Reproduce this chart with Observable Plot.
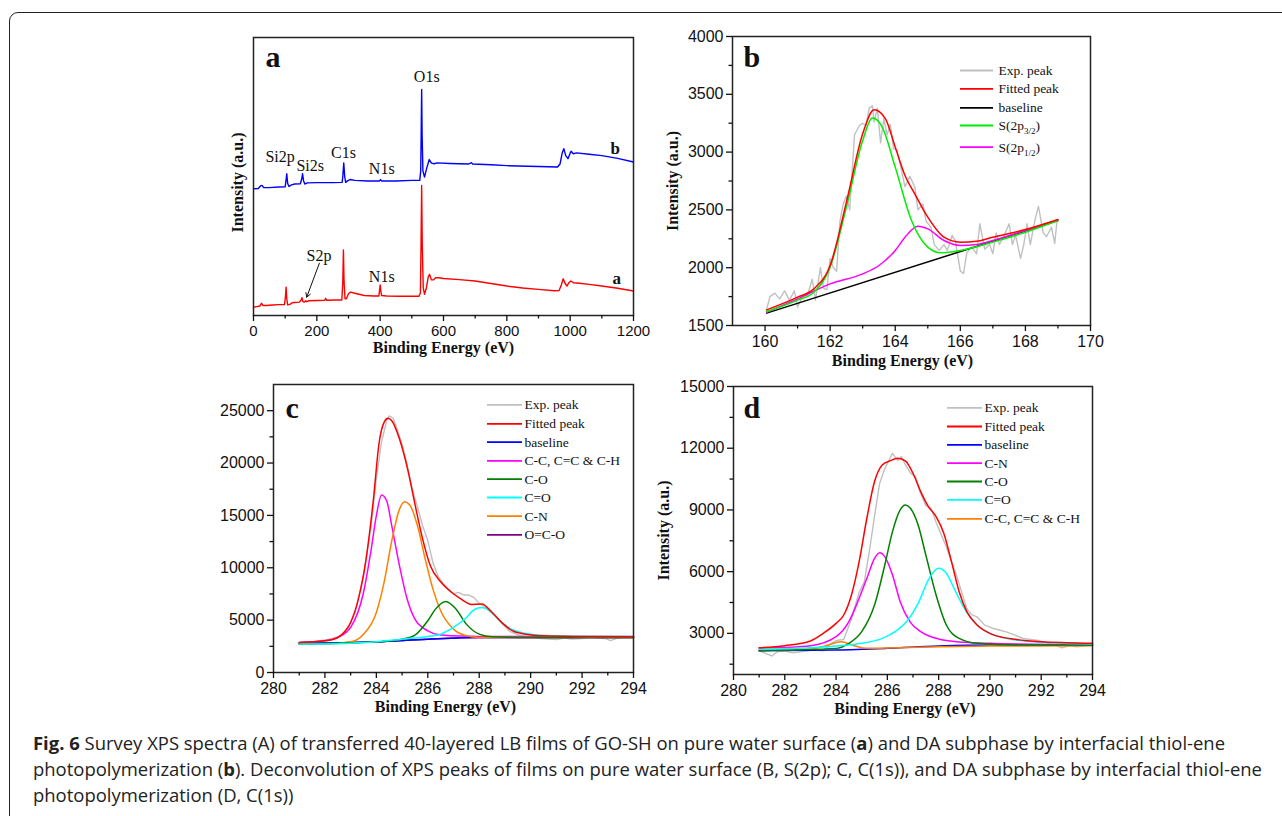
<!DOCTYPE html>
<html><head><meta charset="utf-8">
<script src="https://cdn.jsdelivr.net/npm/d3@7"></script>
<script src="https://cdn.jsdelivr.net/npm/@observablehq/plot@0.6"></script>
<style>
body{margin:0;background:#fff;width:1282px;height:816px;overflow:hidden;position:relative;font-family:"Liberation Sans",Arial,sans-serif}
#border{position:absolute;left:9px;top:12px;width:1300px;height:830px;border:1.6px solid #222;border-radius:9px;box-sizing:border-box}
.cap{position:absolute;left:33px;white-space:nowrap;font-family:"Open Sans",sans-serif;font-size:17.5px;line-height:26px;color:#222;transform-origin:0 50%}
.cap b{font-weight:700}
</style></head><body>
<div id="border"></div>
<div class="cap" id="cap1" style="top:730px"><b>Fig. 6</b> Survey XPS spectra (A) of transferred 40-layered LB films of GO-SH on pure water surface (<b>a</b>) and DA subphase by interfacial thiol-ene</div>
<div class="cap" id="cap2" style="top:756px">photopolymerization (<b>b</b>). Deconvolution of XPS peaks of films on pure water surface (B, S(2p); C, C(1s)), and DA subphase by interfacial thiol-ene</div>
<div class="cap" id="cap3" style="top:782px">photopolymerization (D, C(1s))</div>
<script>
// ---------- DATA ----------
// Panel a: survey spectra (arbitrary intensity units)
const surveyA = [[0,3.0],[10,3.2],[20,3.4],[25,4.4],[30,3.6],[40,3.6],[60,3.8],[80,3.9],[98,3.9],[101,7],[103,10.2],[105,6],[108,3.8],[115,4.0],[122,4.6],[130,4.7],[145,4.8],[150,5.5],[153,6.4],[156,5.0],[160,4.8],[165,5.3],[168,5.0],[175,5.3],[200,5.4],[225,5.5],[228,6.2],[231,5.5],[260,5.6],[279,5.6],[282,12],[284,23.6],[286,12],[289,6.0],[293,6.0],[300,7.8],[306,8.4],[320,8.0],[350,7.2],[380,7.0],[396,7.0],[398,9],[400,11.0],[402,9],[404,7.2],[420,7.0],[460,6.9],[500,6.9],[522,6.9],[527,8],[529,25],[531,46.8],[533,25],[536,10],[540,7.6],[546,10],[552,14],[556,14.8],[562,12.8],[568,12.8],[575,13.6],[585,13.6],[600,13.3],[650,12.9],[700,12.4],[750,11.5],[800,10.6],[850,9.9],[900,9.4],[950,8.9],[965,9.0],[972,11],[978,13.2],[984,11.5],[990,10.6],[996,11.8],[1002,12.4],[1010,11.8],[1030,11.6],[1060,11.2],[1100,10.6],[1150,9.8],[1200,8.8]];
const surveyB = [[0,45.6],[15,45.7],[22,46.6],[27,46.8],[32,46.0],[50,46.0],[80,46.2],[100,46.3],[102,48],[105,51.0],[108,47.5],[112,46.4],[120,47.0],[130,47.3],[148,47.4],[152,49],[155,51.0],[158,48.5],[162,47.3],[170,47.7],[200,47.8],[250,47.8],[280,47.9],[282,50],[285,54.9],[288,50],[291,47.9],[298,48.5],[305,48.9],[320,48.6],[360,48.4],[398,48.4],[401,48.9],[404,48.4],[450,48.4],[500,48.6],[525,48.6],[528,52],[529.5,65],[531,81.3],[532.5,65],[535,52],[540,49.8],[547,53],[555,56.1],[562,54.8],[570,54.6],[580,54.9],[620,54.7],[680,54.5],[688,55.0],[692,54.5],[750,54.2],[800,53.9],[900,53.6],[960,53.4],[968,54.5],[975,58.5],[980,60.0],[986,57.5],[993,56.4],[1000,58.4],[1003,59.1],[1010,58.2],[1020,58.5],[1060,58.0],[1100,57.5],[1150,56.5],[1200,55.2]];
const surveyLabels = [
  {t:"O1s",x:547,y:85.8},{t:"Si2p",x:84,y:57.0},{t:"Si2s",x:179,y:53.8},{t:"C1s",x:284,y:58.5},
  {t:"N1s",x:405,y:52.8},{t:"S2p",x:207,y:21.6},{t:"N1s",x:405,y:14.0}
];
const surveyCurveLabels = [{t:"b",x:1142,y:60.0},{t:"a",x:1147,y:13.4}];
const surveyArrow = [{x1:208,y1:18.8,x2:168,y2:6.6}];
const surveyXMajor = [0,200,400,600,800,1000,1200];
const surveyXMinor = [100,300,500,700,900,1100];

// Panel b: S(2p)
const bExp = [[160.05,1640],[160.15,1750],[160.3,1780],[160.45,1730],[160.6,1800],[160.75,1720],[160.9,1800],[161.0,1660],[161.15,1750],[161.3,1760],[161.45,1900],[161.55,1720],[161.7,2000],[161.8,1820],[161.9,1810],[162.0,2080],[162.1,2000],[162.2,1970],[162.3,2400],[162.4,2550],[162.5,2620],[162.6,2500],[162.75,3150],[162.9,3230],[163.0,3250],[163.1,3230],[163.2,3380],[163.3,3400],[163.35,3260],[163.45,3380],[163.55,3080],[163.65,3290],[163.75,3150],[163.85,3240],[163.95,3030],[164.05,3020],[164.15,2900],[164.3,2700],[164.45,2790],[164.6,2700],[164.7,2500],[164.85,2550],[164.95,2400],[165.1,2350],[165.2,2200],[165.35,2150],[165.5,2200],[165.6,2150],[165.75,2280],[165.85,2230],[166.0,1970],[166.1,1950],[166.2,2130],[166.35,2180],[166.5,2120],[166.6,2380],[166.75,2160],[166.9,2200],[167.0,2120],[167.1,2300],[167.2,2200],[167.35,2280],[167.5,2380],[167.6,2200],[167.7,2280],[167.85,2080],[167.95,2200],[168.05,2380],[168.15,2200],[168.3,2420],[168.4,2530],[168.55,2300],[168.65,2270],[168.8,2350],[168.9,2210],[168.97,2400]];
const bFit = [[160.05,1635],[161,1745],[161.5,1817],[162,2019],[162.5,2567],[163,3158],[163.35,3366],[163.7,3288],[164,3043],[164.3,2798],[164.6,2639],[165,2437],[165.5,2264],[166,2221],[166.5,2229],[167,2264],[168,2330],[169,2417]];
const bBase = [[160.05,1607],[169,2408]];
const bS32 = [[160.05,1621],[161,1720],[161.5,1788],[162,2005],[162.5,2524],[163,3100],[163.3,3294],[163.6,3216],[164,2870],[164.5,2408],[165,2178],[165.4,2129],[166,2149],[167,2221],[168,2307],[169,2408]];
const bS12 = [[160.05,1615],[161,1730],[162,1860],[163,1947],[163.5,2019],[164,2149],[164.3,2264],[164.7,2359],[165,2336],[165.5,2235],[166,2192],[166.5,2200],[167,2235],[168,2322],[169,2408]];
const bLegend = ["Exp. peak","Fitted peak","baseline","S(2p3/2)","S(2p1/2)"];
const bXMajor = [160,162,164,166,168,170], bXMinor = [161,163,165,167,169];
const bYMajor = [1500,2000,2500,3000,3500,4000], bYMinor = [1750,2250,2750,3250,3750];

// Panel c: C(1s) on pure water
const cExp = [[281.0,2850],[281.5,2950],[282.0,3100],[282.3,3250],[282.6,3500],[282.9,4200],[283.2,6000],[283.5,9200],[283.8,14000],[284.0,18500],[284.2,22000],[284.4,24000],[284.5,24500],[284.65,24300],[284.8,23300],[285.0,21800],[285.2,19800],[285.4,17500],[285.6,15800],[285.8,14000],[286.0,12600],[286.2,10500],[286.4,9200],[286.6,8500],[286.8,7900],[287.0,7500],[287.2,7650],[287.4,7400],[287.6,7400],[287.8,7150],[288.0,6600],[288.2,6300],[288.4,6050],[288.6,5500],[288.8,4900],[289.0,4400],[289.2,3900],[289.5,3600],[289.8,3450],[290.1,3350],[290.4,3250],[290.7,3200],[291.0,3150],[291.3,3300],[291.6,3200],[292.0,3250],[292.3,3400],[292.6,3300],[292.9,3250],[293.1,3050],[293.4,3300],[293.7,3400],[294,3350]];
const cFit = [[281,2866],[282,3025],[282.5,3344],[282.8,3980],[283,4780],[283.3,7000],[283.6,10830],[283.9,16880],[284.1,21820],[284.3,23890],[284.45,24270],[284.6,24040],[284.9,22290],[285.2,19590],[285.5,16080],[285.8,12740],[286.1,10190],[286.5,8660],[286.9,7710],[287.3,7000],[287.7,6500],[288.1,6530],[288.5,5730],[288.9,4710],[289.3,3980],[289.8,3660],[290.5,3500],[292,3440],[294,3410]];
const cBase = [[281,2770],[284,2930],[286,3185],[288,3345],[290,3345],[294,3345]];
const cCC = [[281,2866],[282,3025],[282.5,3344],[283,4300],[283.5,7640],[283.8,11780],[284.0,14970],[284.2,16940],[284.4,16400],[284.6,14010],[284.9,10190],[285.2,7000],[285.5,5100],[286,3980],[286.5,3570],[287,3500],[288,3440],[290,3440],[294,3440]];
const cCO = [[281,2710],[284,2930],[285,3180],[285.5,3570],[286,4940],[286.3,6050],[286.7,6780],[287.1,6050],[287.5,4620],[288,3660],[288.5,3410],[290,3345],[294,3345]];
const cC_O = [[281,2710],[283,2800],[284,2930],[285,3185],[286,3440],[286.5,3660],[287,4300],[287.5,5250],[287.8,5990],[288.1,6210],[288.4,5890],[288.8,4940],[289.3,4080],[290,3660],[291,3500],[292,3440],[294,3440]];
const cCN = [[281,2710],[282,2710],[283,2930],[283.5,3660],[284,5730],[284.3,8600],[284.6,12580],[284.9,15600],[285.1,16300],[285.3,15990],[285.6,14010],[285.9,10830],[286.2,7960],[286.5,5890],[287,4140],[287.5,3500],[288,3340],[290,3340],[294,3340]];
const cOCO = [[281,2770],[284,2930],[286,3185],[288,3345],[294,3345]];
const cLegend = ["Exp. peak","Fitted peak","baseline","C-C, C=C & C-H","C-O","C=O","C-N","O=C-O"];
const cdXMajor = [280,282,284,286,288,290,292,294], cdXMinor = [281,283,285,287,289,291,293];
const cYMajor = [0,5000,10000,15000,20000,25000], cYMinor = [2500,7500,12500,17500,22500];

// Panel d: C(1s) on DA subphase
const dExp = [[281.0,2150],[281.3,2000],[281.5,1900],[281.7,2100],[282.0,2150],[282.3,2050],[282.6,2100],[282.9,2150],[283.2,2200],[283.5,2150],[283.8,2500],[284.0,2650],[284.3,2700],[284.6,3700],[284.9,5000],[285.1,5500],[285.3,7000],[285.5,8700],[285.7,10300],[285.9,11000],[286.1,11500],[286.2,11750],[286.4,11400],[286.55,11600],[286.7,11200],[286.9,10800],[287.1,10600],[287.3,9800],[287.5,9200],[287.7,9100],[287.9,8400],[288.1,7800],[288.3,7200],[288.5,6500],[288.7,5800],[288.9,5000],[289.1,4200],[289.3,3900],[289.5,3800],[289.8,3400],[290.1,3250],[290.4,3150],[290.7,3050],[291.0,2900],[291.3,2750],[291.6,2700],[291.9,2650],[292.2,2550],[292.5,2450],[292.8,2300],[293.1,2400],[293.4,2350],[293.7,2400],[294,2450]];
const dFit = [[281,2303],[282,2400],[283,2627],[283.5,3000],[284,3487],[284.3,3892],[284.6,4865],[284.9,6486],[285.2,8595],[285.5,10378],[285.8,11189],[286.1,11383],[286.4,11513],[286.7,11383],[287.0,10783],[287.3,9892],[287.6,9162],[287.9,8676],[288.2,7865],[288.5,6486],[288.8,5027],[289.1,4054],[289.5,3405],[290,3000],[290.5,2805],[291,2708],[292,2594],[293,2546],[294,2514]];
const dBase = [[281,2157],[284,2190],[286,2270],[288,2384],[290,2430],[294,2430]];
const dCN = [[281,2270],[283,2400],[284,2838],[284.5,3568],[284.9,4703],[285.2,5676],[285.5,6648],[285.7,6924],[285.9,6730],[286.2,5838],[286.5,4540],[286.9,3535],[287.3,3081],[288,2724],[289,2562],[290,2514],[294,2430]];
const dCO = [[281,2157],[284,2270],[284.5,2514],[285,3081],[285.5,4378],[285.9,6324],[286.2,7946],[286.5,9000],[286.7,9243],[286.9,9081],[287.2,8270],[287.5,6810],[287.9,4865],[288.3,3405],[288.8,2757],[289.5,2514],[291,2430],[294,2430]];
const dC_O = [[281,2240],[283,2300],[284,2384],[285,2514],[285.8,2757],[286.3,3081],[286.8,3649],[287.2,4460],[287.6,5595],[287.9,6113],[288.0,6162],[288.3,5919],[288.6,5189],[289,4216],[289.5,3405],[290,3000],[291,2676],[292,2562],[294,2481]];
const dCC = [[281,2190],[283,2240],[283.6,2400],[284.2,2595],[284.7,2400],[285.2,2270],[286,2290],[290,2384],[294,2400]];
const dLegend = ["Exp. peak","Fitted peak","baseline","C-N","C-O","C=O","C-C, C=C & C-H"];
const dYMajor = [3000,6000,9000,12000,15000], dYMinor = [1500,4500,7500,10500,13500];

const axisTitleX = "Binding Energy (eV)", axisTitleY = "Intensity (a.u.)";

// ---------- RENDER ----------
const serif = "'Liberation Serif','Times New Roman',serif";
const sans = "'Liberation Sans',Arial,sans-serif";

function makePanel(cfg) {
  const {left, top, width, height, mt, mr, mb, ml, xDomain, yDomain} = cfg;
  const fw = width - ml - mr, fh = height - mt - mb;
  const toX = px => xDomain[0] + px / fw * (xDomain[1] - xDomain[0]);
  const toY = py => yDomain[1] - py / fh * (yDomain[1] - yDomain[0]);
  const marks = [];
  for (const s of cfg.series) {
    marks.push(Plot.line(s.data, {x: d => d[0], y: d => d[1], stroke: s.color, strokeWidth: s.w || 1.5, curve: s.curve || "monotone-x"}));
  }
  marks.push(Plot.frame({stroke: "#222", strokeWidth: 1.5}));
  marks.push(Plot.axisX({ticks: cfg.xMajor, tickSize: 6, tickPadding: 4, tickFormat: "d", fontSize: cfg.tickFont, fontFamily: sans, label: null, strokeWidth: 1.3}));
  marks.push(Plot.axisX({ticks: cfg.xMinor, tickSize: 3.5, tickFormat: () => "", label: null, strokeWidth: 1.3}));
  if (cfg.yMajor) {
    marks.push(Plot.axisY({ticks: cfg.yMajor, tickSize: 6, tickPadding: 3, tickFormat: "d", fontSize: cfg.tickFont, fontFamily: sans, label: null, strokeWidth: 1.3}));
    marks.push(Plot.axisY({ticks: cfg.yMinor, tickSize: 3.5, tickFormat: () => "", label: null, strokeWidth: 1.3}));
  }
  marks.push(Plot.text([axisTitleX], {text: d => d, frameAnchor: "bottom", textAnchor: "middle", dy: cfg.xTitleDy, dx: cfg.xTitleDx || 0, fontFamily: serif, fontWeight: "bold", fontSize: 16, fill: "#111"}));
  if (cfg.yTitleDx != null) {
    marks.push(Plot.text([axisTitleY], {text: d => d, frameAnchor: "left", textAnchor: "middle", rotate: -90, dx: cfg.yTitleDx, dy: cfg.yTitleDy || 0, fontFamily: serif, fontWeight: "bold", fontSize: 16, fill: "#111"}));
  }
  marks.push(Plot.text([cfg.letter], {text: d => d, frameAnchor: "top-left", textAnchor: "start", lineAnchor: "top", dx: cfg.letterDx, dy: cfg.letterDy, fontFamily: serif, fontWeight: "bold", fontSize: 30, fill: "#111"}));
  if (cfg.legend) {
    const L = cfg.legend;
    L.labels.forEach((lab, i) => {
      const y = toY(L.rows[i]);
      marks.push(Plot.ruleY([y], {y: d => d, x1: () => toX(L.x1), x2: () => toX(L.x2), stroke: L.colors[i], strokeWidth: 1.8}));
      marks.push(Plot.text([lab], {text: d => d, x: () => toX(L.tx), y: () => y, textAnchor: "start", fontFamily: serif, fontSize: 13.5, fill: "#111"}));
    });
  }
  if (cfg.extra) marks.push(...cfg.extra);
  const svg = Plot.plot({
    width, height, marginTop: mt, marginRight: mr, marginBottom: mb, marginLeft: ml,
    x: {domain: xDomain},
    y: cfg.yMajor ? {domain: yDomain} : {domain: yDomain, axis: null},
    style: {background: "transparent", color: "#111", overflow: "visible", fontFamily: sans},
    marks
  });
  svg.style.position = "absolute";
  svg.style.left = left + "px";
  svg.style.top = top + "px";
  document.body.appendChild(svg);
  d3.select(svg).selectAll("text").each(function () {
    const t = this.textContent;
    if (t === "S(2p3/2)" || t === "S(2p1/2)") {
      const sub = t.slice(4, 7);
      this.innerHTML = 'S(2p<tspan dy="4" font-size="9">' + sub + '</tspan><tspan dy="-4">)</tspan>';
    }
  });
  return svg;
}

// Panel a
makePanel({
  left: 170, top: 20, width: 480, height: 350, mt: 17, mr: 17, mb: 55, ml: 83,
  xDomain: [0, 1200], yDomain: [0, 100], xMajor: surveyXMajor, xMinor: surveyXMinor, tickFont: 15,
  series: [{data: surveyA, color: "#ff0000", curve: "linear", w: 1.4}, {data: surveyB, color: "#0000ff", curve: "linear", w: 1.4}],
  xTitleDy: 37, yTitleDx: -16, yTitleDy: 6, letter: "a", letterDx: 12, letterDy: 8,
  extra: [
    Plot.text(surveyLabels, {x: "x", y: "y", text: "t", fontFamily: serif, fontSize: 16, fill: "#111"}),
    Plot.text(surveyCurveLabels, {x: "x", y: "y", text: "t", fontFamily: serif, fontWeight: "bold", fontSize: 17, fill: "#111"}),
    Plot.arrow(surveyArrow, {x1: "x1", y1: "y1", x2: "x2", y2: "y2", stroke: "#111", strokeWidth: 1, headLength: 7})
  ]
});

// Panel b
makePanel({
  left: 640, top: 20, width: 470, height: 360, mt: 16, mr: 20, mb: 55, ml: 92,
  xDomain: [159, 170], yDomain: [1500, 4000], xMajor: bXMajor, xMinor: bXMinor, yMajor: bYMajor, yMinor: bYMinor, tickFont: 16,
  series: [
    {data: bExp, color: "#c0c0c0", curve: "linear", w: 1.4},
    {data: bBase, color: "#000000", curve: "linear"},
    {data: bS12, color: "#ff00ff"},
    {data: bS32, color: "#00ee00"},
    {data: bFit, color: "#ff0000"}
  ],
  xTitleDy: 40, xTitleDx: -9, yTitleDx: -60, letter: "b", letterDx: 11, letterDy: 9,
  legend: {labels: bLegend, colors: ["#c0c0c0", "#ff0000", "#000000", "#00ee00", "#ff00ff"], x1: 228, x2: 261, tx: 266, rows: [34, 52.3, 71.3, 89, 110.7]}
});

// Panel c (no y-axis title visible in the figure)
makePanel({
  left: 180, top: 380, width: 470, height: 350, mt: 4, mr: 17, mb: 58, ml: 93,
  xDomain: [280, 294], yDomain: [0, 27500], xMajor: cdXMajor, xMinor: cdXMinor, yMajor: cYMajor, yMinor: cYMinor, tickFont: 16,
  series: [
    {data: cExp, color: "#c0c0c0", curve: "linear", w: 1.4},
    {data: cOCO, color: "#800080"},
    {data: cBase, color: "#0000ff"},
    {data: cCC, color: "#ff00ff"},
    {data: cCN, color: "#ff8000"},
    {data: cCO, color: "#008000"},
    {data: cC_O, color: "#00ffff"},
    {data: cFit, color: "#ff0000"}
  ],
  xTitleDy: 39, xTitleDx: -8, letter: "c", letterDx: 12, letterDy: 12,
  legend: {labels: cLegend, colors: ["#c0c0c0", "#ff0000", "#0000ff", "#ff00ff", "#008000", "#00ffff", "#ff8000", "#800080"], x1: 214, x2: 249, tx: 251, rows: [20.3, 39.3, 57.7, 76.3, 94.7, 113, 131.7, 150.3]}
});

// Panel d
makePanel({
  left: 640, top: 376, width: 470, height: 354, mt: 10, mr: 18, mb: 56, ml: 93,
  xDomain: [280, 294], yDomain: [1000, 15000], xMajor: cdXMajor, xMinor: cdXMinor, yMajor: dYMajor, yMinor: dYMinor, tickFont: 16,
  series: [
    {data: dExp, color: "#c0c0c0", curve: "linear", w: 1.4},
    {data: dBase, color: "#0000ff"},
    {data: dCC, color: "#ff8000"},
    {data: dCN, color: "#ff00ff"},
    {data: dCO, color: "#008000"},
    {data: dC_O, color: "#00ffff"},
    {data: dFit, color: "#ff0000"}
  ],
  xTitleDy: 39, xTitleDx: -8, yTitleDx: -70, letter: "d", letterDx: 10, letterDy: 10,
  legend: {labels: dLegend, colors: ["#c0c0c0", "#ff0000", "#0000ff", "#ff00ff", "#008000", "#00ffff", "#ff8000"], x1: 214, x2: 249, tx: 251, rows: [21.3, 40, 58.3, 76.7, 95, 113.3, 132.3]}
});

// Caption fitting
function fitCaption() {
  const c1 = document.getElementById("cap1"), c2 = document.getElementById("cap2"), c3 = document.getElementById("cap3");
  const s1 = 1192 / c1.getBoundingClientRect().width;
  const s2 = 1229 / c2.getBoundingClientRect().width;
  c1.style.transform = `scaleX(${s1})`;
  c2.style.transform = `scaleX(${s2})`;
  c3.style.transform = `scaleX(${(s1 + s2) / 2})`;
}
fitCaption();
</script>
</body></html>
